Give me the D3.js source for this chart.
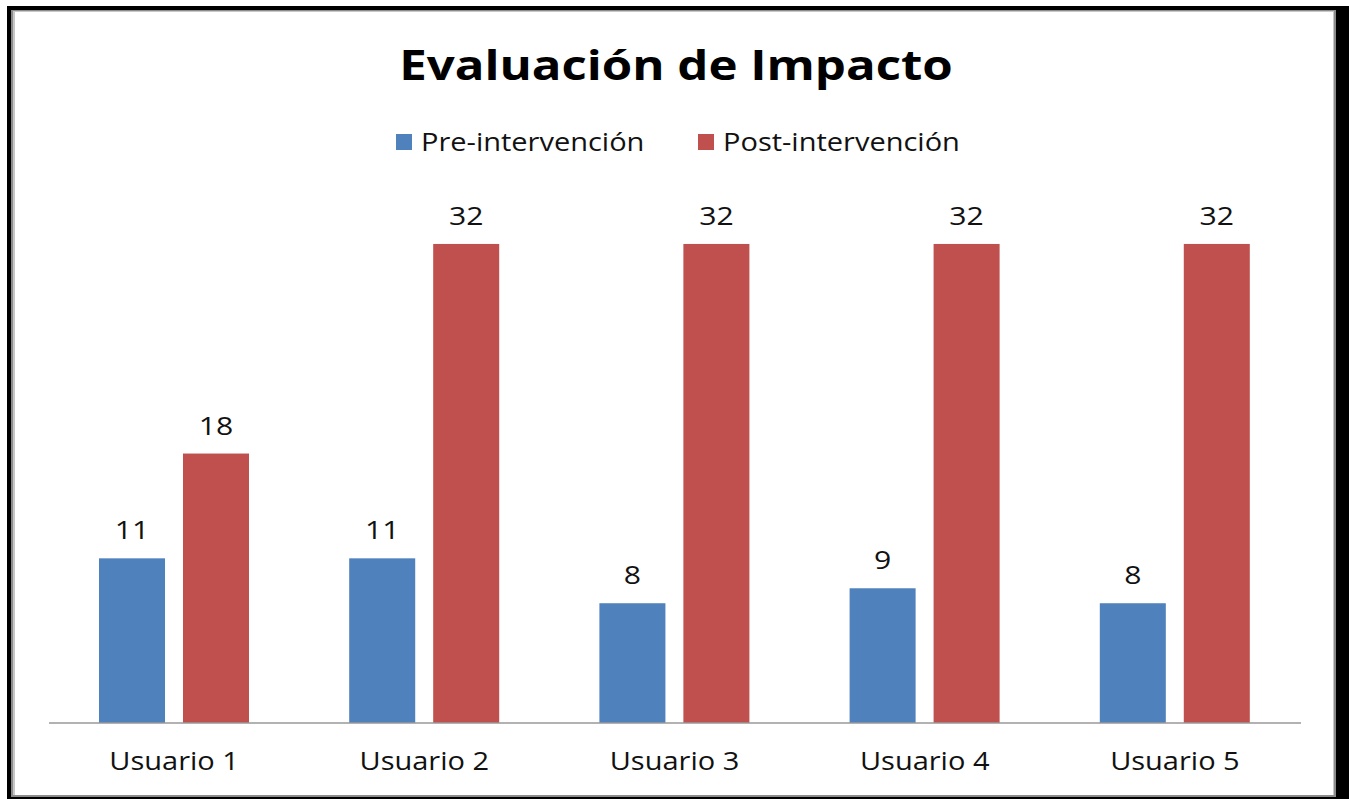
<!DOCTYPE html>
<html><head><meta charset="utf-8">
<script src="https://cdn.jsdelivr.net/npm/d3@7/dist/d3.min.js"></script>
<style>html,body{margin:0;padding:0;background:#fff;overflow:hidden}</style>
</head><body>
<svg id="c" width="1349" height="799"></svg>
<script>
const categories = ["Usuario 1","Usuario 2","Usuario 3","Usuario 4","Usuario 5"];
const seriesNames = ["Pre-intervención","Post-intervención"];
const preValues = [11, 11, 8, 9, 8];
const postValues = [18, 32, 32, 32, 32];
const colors = ["#4F81BD","#C0504D"];
const title = "Evaluación de Impacto";

const svg = d3.select("#c");
const W = 1349, H = 799;
const font = "Open Sans, Noto Sans, sans-serif";
const SX = 1.16;

// frame
svg.append("rect").attr("x",0).attr("y",0).attr("width",W).attr("height",H).attr("fill","#fff");
svg.append("rect").attr("x",7).attr("y",6).attr("width",W-7).attr("height",H-6).attr("fill","#000");
svg.append("rect").attr("x",11).attr("y",10).attr("width",1325).attr("height",787).attr("fill","#8c8c8c");
svg.append("rect").attr("x",13).attr("y",11).attr("width",1321).attr("height",784).attr("fill","#c8c8c8");
svg.append("rect").attr("x",15).attr("y",12).attr("width",1318).attr("height",783).attr("fill","#fff");

const x0 = d3.scaleBand().domain(categories).range([49,1300]).paddingInner(0).paddingOuter(0);
const x1 = d3.scaleBand().domain(seriesNames).range([50, 200]).paddingInner(0.214);
const y = d3.scaleLinear().domain([0,35]).range([723, 723-35*14.97]);

const data = categories.map((c,i)=>({cat:c, vals:[preValues[i], postValues[i]]}));

const g = svg.append("g");
const groups = g.selectAll("g.cat").data(data).join("g")
  .attr("transform", d=>`translate(${x0(d.cat)},0)`);
groups.selectAll("rect").data(d=>d.vals.map((v,j)=>({s:seriesNames[j],v,j}))).join("rect")
  .attr("x", d=>x1(d.s)).attr("width", x1.bandwidth())
  .attr("y", d=>y(d.v)).attr("height", d=>y(0)-y(d.v))
  .attr("fill", d=>colors[d.j]);
groups.selectAll("text").data(d=>d.vals.map((v,j)=>({s:seriesNames[j],v,j}))).join("text")
  .attr("transform", d=>`translate(${x1(d.s)+x1.bandwidth()/2},${y(d.v)-19}) scale(${SX},1)`)
  .attr("text-anchor","middle").attr("font-family",font).attr("font-size",26).attr("fill","#111")
  .text(d=>d.v);

// axis
const ax = svg.append("g").attr("transform",`translate(0,${y(0)})`)
  .call(d3.axisBottom(x0).tickSize(0));
ax.select(".domain").attr("stroke","#999").attr("stroke-width",1.5).attr("d","M49,0H1301");
ax.selectAll(".tick text").attr("y",47).attr("dy",0).attr("transform",`scale(${SX},1)`)
  .attr("font-family",font).attr("font-size",25).attr("fill","#111");

// title
svg.append("text").attr("transform",`translate(676,80) scale(1.2,1)`).attr("text-anchor","middle")
  .attr("font-family",font).attr("font-weight","bold").attr("font-size",41).attr("fill","#000")
  .text(title);

// legend
const legX = [396, 698];
const leg = svg.selectAll("g.leg").data(seriesNames).join("g").attr("transform",(d,i)=>`translate(${legX[i]},134)`);
leg.append("rect").attr("width",16).attr("height",16).attr("fill",(d,i)=>colors[i]);
leg.append("text").attr("transform",`translate(25,17) scale(${SX},1)`).attr("font-family",font).attr("font-size",25).attr("fill","#111").text(d=>d);
</script>
</body></html>
